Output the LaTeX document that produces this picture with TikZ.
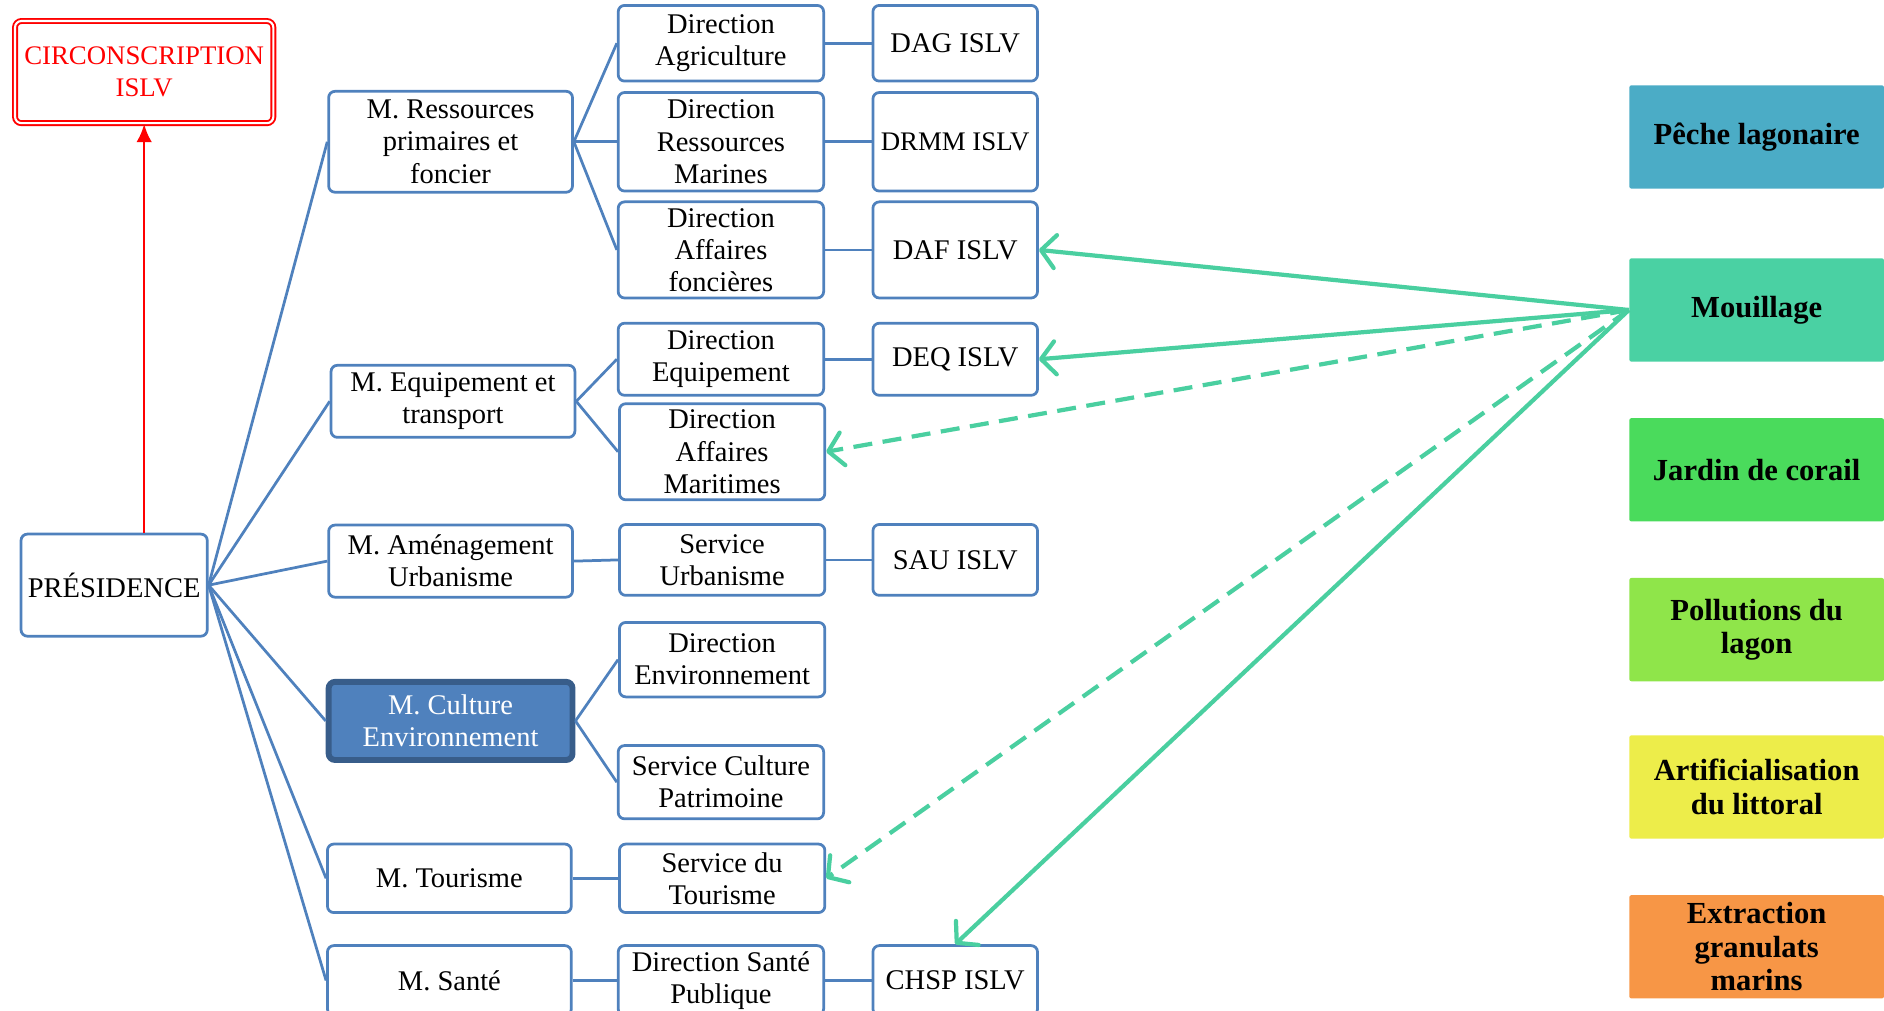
\documentclass[tikz,border=0pt]{standalone}
\usepackage{fontspec}
\setmainfont{Liberation Serif}
\usetikzlibrary{arrows.meta}

\definecolor{bleu}{RGB}{79,129,189}
\definecolor{bleufonce}{RGB}{56,93,138}
\definecolor{vertm}{RGB}{74,207,160}
\definecolor{cpeche}{RGB}{75,172,198}
\definecolor{cmouil}{RGB}{74,209,163}
\definecolor{cjardin}{RGB}{74,219,92}
\definecolor{cpollu}{RGB}{143,229,74}
\definecolor{cartif}{RGB}{237,237,74}
\definecolor{cextra}{RGB}{247,150,70}

\begin{document}
\begin{tikzpicture}[x=0.02cm, y=-0.02cm,
  boite/.style={draw=bleu, line width=1.3pt, rounded corners=3pt, fill=white, align=center, inner sep=1pt, font=\fontsize{13.5}{15.2}\selectfont},
  mini/.style={boite, minimum width=4.06cm},
  dir/.style={boite, minimum width=3.42cm},
  islv/.style={boite, minimum width=2.74cm},
  enjeu/.style={fill=#1, rounded corners=1pt, minimum width=4.24cm, minimum height=1.72cm, align=center, inner sep=1pt, font=\fontsize{14.5}{15.8}\selectfont\bfseries},
  lien/.style={draw=bleu, line width=1.3pt},
  fleche/.style={draw=vertm, line width=2pt, -{Straight Barb[length=2.4mm, width=5.5mm, round]}}
]
\useasboundingbox (0,0) rectangle (1568,841);
\clip (0,0) rectangle (1568,841);
%\draw [lightgray, step=50](0,0) grid (1568,841);

\node [boite, text=red, draw=red, double, line width=0.9pt, double distance=1pt, minimum width=4.3cm, minimum height=1.7cm, font=\fontsize{12.7}{15.2}\selectfont] (circ) at (120, 60){CIRCONSCRIPTION\\ISLV};
\node [boite, minimum width=3.1cm, minimum height=1.7cm] (pres) at (95, 487){PRÉSIDENCE};

\node [mini, minimum height=1.68cm] (mres) at (375, 118){M. Ressources\\primaires et\\foncier};
\node [mini, minimum height=1.2cm] (mequ) at (377, 334){M. Equipement et\\transport};
\node [mini, minimum height=1.2cm] (mame) at (375, 467){M. Aménagement\\Urbanisme};
\node [mini, minimum height=1.3cm, fill=bleu, draw=bleufonce, line width=2.8pt, text=white] (mcul) at (375, 600){M. Culture\\Environnement};
\node [mini, minimum height=1.14cm] (mtou) at (374, 731){M. Tourisme};
\node [mini, minimum height=1.16cm] (msan) at (374, 816){M. Santé};

\node [dir, minimum height=1.26cm] (dagr) at (600, 36){Direction\\Agriculture};
\node [dir, minimum height=1.64cm] (drm) at (600, 118){Direction\\Ressources\\Marines};
\node [dir, minimum height=1.6cm] (daf) at (600, 208){Direction\\Affaires\\foncières};
\node [dir, minimum height=1.2cm] (deq) at (600, 299){Direction\\Equipement};
\node [dir, minimum height=1.6cm] (dam) at (601, 376){Direction\\Affaires\\Maritimes};
\node [dir, minimum height=1.18cm] (surb) at (601, 466){Service\\Urbanisme};
\node [dir, minimum height=1.24cm] (denv) at (601, 549){Direction\\Environnement};
\node [dir, minimum height=1.22cm] (scul) at (600, 651){Service Culture\\Patrimoine};
\node [dir, minimum height=1.14cm] (stou) at (601, 731){Service du\\Tourisme};
\node [dir, minimum height=1.16cm] (dsan) at (600, 816){Direction Santé\\Publique};

\node [islv, minimum height=1.26cm] (idag) at (795, 36){DAG ISLV};
\node [islv, minimum height=1.64cm, font=\fontsize{12.7}{15.2}\selectfont] (idrmm) at (795, 118){DRMM ISLV};
\node [islv, minimum height=1.6cm] (idaf) at (795, 208){DAF ISLV};
\node [islv, minimum height=1.2cm] (ideq) at (795, 299){DEQ ISLV};
\node [islv, minimum height=1.18cm] (isau) at (795, 466){SAU ISLV};
\node [islv, minimum height=1.16cm] (ichsp) at (795, 816){CHSP ISLV};

\node [enjeu=cpeche] (peche) at (1462, 114){Pêche lagonaire};
\node [enjeu=cmouil] (mouil) at (1462, 258){Mouillage};
\node [enjeu=cjardin] (jardin) at (1462, 391){Jardin de corail};
\node [enjeu=cpollu] (pollu) at (1462, 524){Pollutions du\\lagon};
\node [enjeu=cartif] (artif) at (1462, 655){Artificialisation\\du littoral};
\node [enjeu=cextra] (extra) at (1462, 788){Extraction\\granulats\\marins};

\draw [red, line width=1.2pt, -{Latex[length=3mm, width=2.6mm]}](pres.north -| circ.south) -- (circ.south);

\draw [lien](pres.east) -- (mres.west);
\draw [lien](pres.east) -- (mequ.west);
\draw [lien](pres.east) -- (mame.west);
\draw [lien](pres.east) -- (mcul.west);
\draw [lien](pres.east) -- (mtou.west);
\draw [lien](pres.east) -- (msan.west);

\draw [lien](mres.east) -- (dagr.west);
\draw [lien](mres.east) -- (drm.west);
\draw [lien](mres.east) -- (daf.west);
\draw [lien](mequ.east) -- (deq.west);
\draw [lien](mequ.east) -- (dam.west);
\draw [lien](mame.east) -- (surb.west);
\draw [lien](mcul.east) -- (denv.west);
\draw [lien](mcul.east) -- (scul.west);
\draw [lien](mtou.east) -- (stou.west);
\draw [lien](msan.east) -- (dsan.west);

\draw [lien](dagr.east) -- (idag.west);
\draw [lien](drm.east) -- (idrmm.west);
\draw [lien](daf.east) -- (idaf.west);
\draw [lien](deq.east) -- (ideq.west);
\draw [lien](surb.east) -- (isau.west);
\draw [lien](dsan.east) -- (ichsp.west);

\draw [fleche](mouil.west) -- (idaf.east);
\draw [fleche](mouil.west) -- (ideq.east);
\draw [fleche, dash pattern=on 9pt off 5pt](mouil.west) -- (dam.east);
\draw [fleche, dash pattern=on 9pt off 5pt](mouil.west) -- (stou.east);
\draw [fleche](mouil.west) -- (ichsp.north);
\end{tikzpicture}
\end{document}
